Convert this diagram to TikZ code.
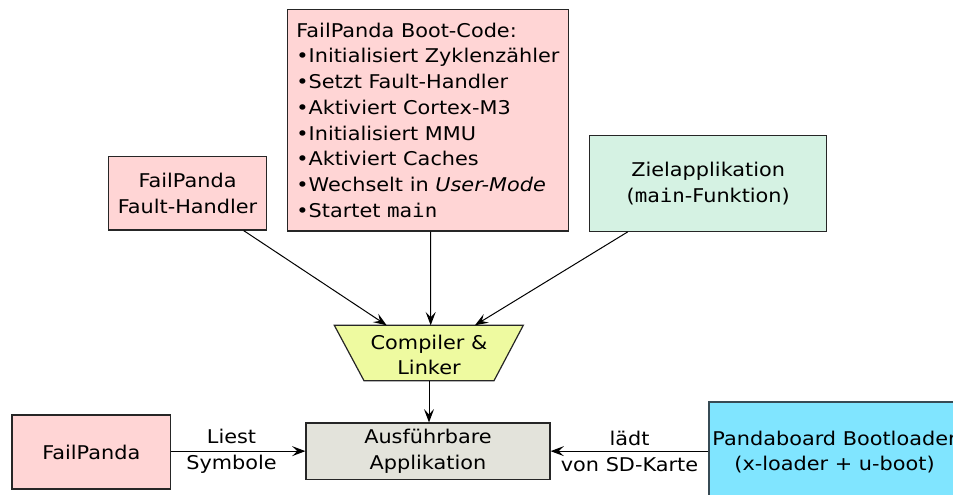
\documentclass[tikz,border=0pt]{standalone}
\usepackage{fontspec}
\setmainfont[FakeStretch=1.1]{DejaVu Sans}
\setmonofont[FakeStretch=1.1]{DejaVu Sans Mono}
\usetikzlibrary{arrows.meta,calc}

\definecolor{boxpink}{RGB}{255,213,213}
\definecolor{boxgreen}{RGB}{213,242,227}
\definecolor{boxyellow}{RGB}{238,250,160}
\definecolor{boxgray}{RGB}{227,227,219}
\definecolor{boxcyan}{RGB}{128,229,255}
\definecolor{cyanborder}{RGB}{55,75,85}

\begin{document}
\begin{tikzpicture}[x=0.75pt,y=-0.75pt,
  font=\fontsize{14.2pt}{19.3pt}\selectfont,
  box/.style={draw=black!85, line width=0.9pt, inner sep=0pt, align=center},
  conn/.style={draw=black, line width=0.75pt,
    -{Stealth[length=10pt,width=7.5pt,inset=4pt]}},
  lbl/.style={align=center, inner sep=0pt},
]
\useasboundingbox (0,0) rectangle (953,495);
\clip (0,0) rectangle (953,495);

% Boot code of the framework
\node[box, fill=boxpink, minimum width=210.6pt, minimum height=166.1pt,
      align=left] (boot) at (427.9,120.25)
  {FailPanda Boot-Code:\\
   •Initialisiert Zyklenzähler\\
   •Setzt Fault-Handler\\
   •Aktiviert Cortex-M3\\
   •Initialisiert MMU\\
   •Aktiviert Caches\\
   •Wechselt in \textit{User-Mode}\\
   •Startet \texttt{main}};

% Fault handler
\node[box, fill=boxpink, minimum width=118.8pt, minimum height=55pt]
  (fh) at (187.5,193.35) {FailPanda\\Fault-Handler};

% Target application
\node[box, fill=boxgreen, minimum width=177.75pt, minimum height=71.7pt]
  (ziel) at (708.2,183.5) {Zielapplikation\\(\texttt{main}-Funktion)};

% Compiler and linker (trapezoid)
\coordinate (ctl) at (334.3,325.3);
\coordinate (ctr) at (523.3,325.3);
\coordinate (cbr) at (494,380.7);
\coordinate (cbl) at (364,380.7);
\coordinate (cbm) at ($(cbl)!0.5!(cbr)$);
\draw[box, fill=boxyellow] (ctl) -- (ctr) -- (cbr) -- (cbl) -- cycle;
\node[lbl] (cl) at (429,355) {Compiler \&\\Linker};

% Executable
\node[box, fill=boxgray, minimum width=183pt, minimum height=42.2pt]
  (exe) at (428,451.15) {Ausführbare\\Applikation};

% FailPanda host tool
\node[box, fill=boxpink, minimum width=118.9pt, minimum height=55.5pt]
  (fp) at (91.25,452) {FailPanda};

% Bootloader
\node[box, draw=cyanborder, fill=boxcyan, minimum width=188.25pt,
      minimum height=75pt]
  (pb) at (834.5,452) {Pandaboard Bootloader\\(x-loader + u-boot)};

% Connectors
\draw[conn] ($(fh.south west)!0.852!(fh.south east)$) -- ($(ctl)!0.277!(ctr)$);
\draw[conn] ($(boot.south west)!0.51!(boot.south east)$) -- ($(ctl)!0.51!(ctr)$);
\draw[conn] ($(ziel.south west)!0.162!(ziel.south east)$) -- ($(ctl)!0.744!(ctr)$);
\draw[conn] (cbm) -- (cbm |- exe.north);
\draw[conn] (exe.west -| fp.east) -- (exe.west)
  node[lbl, pos=0.45] {Liest\\Symbole};
\draw[conn] (exe.east -| pb.west) -- (exe.east)
  node[lbl, midway] {lädt\\von SD-Karte};
\end{tikzpicture}
\end{document}
